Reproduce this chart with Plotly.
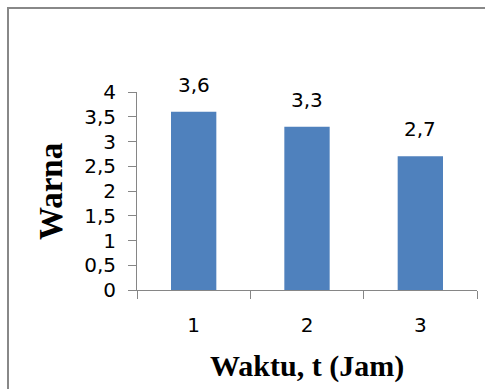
import plotly.graph_objects as go

categories = ["1", "2", "3"]
values = [3.6, 3.3, 2.7]
y_ticks = [0, 0.5, 1, 1.5, 2, 2.5, 3, 3.5, 4]
y_tick_labels = [("%g" % v).replace(".", ",") for v in y_ticks]
value_labels = [("%g" % v).replace(".", ",") for v in values]
x_title = "Waktu, t (Jam)"
y_title = "Warna"

tick_font = dict(family="DejaVu Sans", size=20, color="#000000")
axis_color = "#868686"

fig = go.Figure()
fig.add_trace(go.Bar(x=categories, y=values, marker=dict(color="#4F81BD", line=dict(width=0)),
                     hoverinfo="skip"))

annotations = []
for i, (v, t) in enumerate(zip(values, value_labels)):
    annotations.append(dict(x=i, y=v, xref="x", yref="y", text=t, showarrow=False,
                            yanchor="bottom", xanchor="center", yshift=13, font=tick_font))
annotations.append(dict(x=0.5, y=-0.385, xref="paper", yref="paper", text="<b>" + x_title + "</b>",
                        showarrow=False, xanchor="center", yanchor="middle",
                        font=dict(family="Liberation Serif", size=30, color="#000000")))
annotations.append(dict(x=-0.253, y=0.5, xref="paper", yref="paper", text="<b>" + y_title + "</b>",
                        showarrow=False, xanchor="center", yanchor="middle", textangle=-90,
                        font=dict(family="Liberation Serif", size=33, color="#000000")))

shapes = [
    dict(type="line", xref="paper", yref="paper", x0=(8 - 137) / 340, x1=(485 - 137) / 340,
         y0=(290 - 8) / 198, y1=(290 - 8) / 198, line=dict(color="#888888", width=2)),
    dict(type="line", xref="paper", yref="paper", x0=(8 - 137) / 340, x1=(8 - 137) / 340,
         y0=(290 - 7) / 198, y1=(290 - 395) / 198, line=dict(color="#888888", width=2)),
]

fig.update_layout(
    width=485, height=389,
    margin=dict(l=137, r=8, t=92, b=99, pad=0),
    paper_bgcolor="white", plot_bgcolor="white",
    showlegend=False,
    bargap=0.6,
    separators=",.",
    annotations=annotations,
    shapes=shapes,
    xaxis=dict(type="category", range=[-0.5, 2.5], tickson="boundaries", ticks="outside", ticklen=8,
               tickcolor=axis_color, showline=True, linecolor=axis_color, linewidth=1,
               showgrid=False, tickfont=tick_font, ticklabelstandoff=17, zeroline=False),
    yaxis=dict(range=[0, 4], tickvals=y_ticks, ticktext=y_tick_labels, ticks="outside", ticklen=8,
               tickcolor=axis_color, showline=True, linecolor=axis_color, linewidth=1,
               showgrid=False, tickfont=tick_font, ticklabelstandoff=8, zeroline=False),
)

fig.write_html("out.html", config={"displayModeBar": False},
               post_script="document.body.style.margin='0';document.body.style.padding='0';")
